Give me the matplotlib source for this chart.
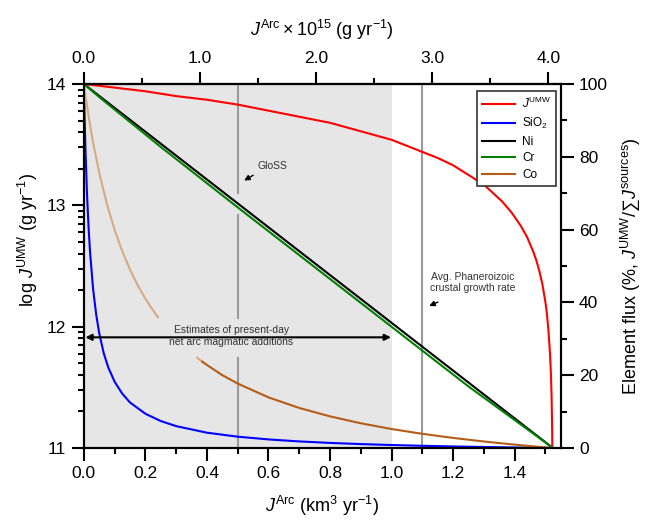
import numpy as np
import matplotlib
matplotlib.use("Agg")
import matplotlib.pyplot as plt
from matplotlib.ticker import FixedLocator, MultipleLocator, NullFormatter, FixedFormatter, LogLocator

plt.rcParams['font.family'] = ['Liberation Sans', 'DejaVu Sans']
plt.rcParams['mathtext.fontset'] = 'custom'
plt.rcParams['mathtext.rm'] = 'Liberation Sans'
plt.rcParams['mathtext.it'] = 'Liberation Sans:italic'
plt.rcParams['mathtext.bf'] = 'Liberation Sans:bold'

# J_arc (km3/yr) vs log J_UMW (g/yr)
red_x = [0, 0.1, 0.2, 0.3, 0.4, 0.5, 0.6, 0.7, 0.8, 0.9, 1.0, 1.05, 1.1, 1.15, 1.2, 1.25,
         1.3, 1.33, 1.36, 1.39, 1.42, 1.44, 1.46, 1.47, 1.48, 1.49, 1.50, 1.505, 1.51,
         1.515, 1.518, 1.52, 1.522, 1.5235]
red_log = [14.0, 13.97, 13.94, 13.90, 13.87, 13.83, 13.78, 13.73, 13.68, 13.61, 13.54,
           13.49, 13.44, 13.39, 13.33, 13.25, 13.17, 13.10, 13.03, 12.94, 12.83, 12.74,
           12.62, 12.55, 12.46, 12.35, 12.20, 12.10, 11.96, 11.77, 11.60, 11.42, 11.12,
           10.52]

# element flux (%), right axis
sio2_x = [0, 0.002, 0.005, 0.01, 0.015, 0.02, 0.03, 0.04, 0.05, 0.065, 0.08, 0.1, 0.125,
          0.15, 0.2, 0.25, 0.3, 0.4, 0.5, 0.6, 0.7, 0.8, 0.9, 1.0, 1.1, 1.2, 1.3, 1.4, 1.524]
sio2_pct = [100, 92.2, 82.6, 70.3, 61.1, 54.0, 43.7, 36.7, 31.5, 25.9, 22.0, 18.2, 14.9,
            12.5, 9.4, 7.4, 6.0, 4.2, 3.1, 2.35, 1.8, 1.39, 1.07, 0.81, 0.60, 0.42, 0.27,
            0.14, 0]

ni_x = [0, 1.524]
ni_pct = [100, 0]

cr_x = [0, 0.05, 0.25, 0.5, 0.75, 1.0, 1.25, 1.45, 1.524]
cr_pct = [100, 96.4, 82.7, 66.1, 49.7, 33.3, 16.9, 4.6, 0]

co_light_x = [0, 0.01, 0.02, 0.03, 0.05, 0.075, 0.1, 0.125, 0.15, 0.175, 0.2, 0.22, 0.241]
co_light_pct = [100, 94.1, 88.8, 83.9, 75.6, 67.0, 59.9, 54.0, 49.0, 44.7, 41.0, 38.4, 35.9]
co_fade_x = [0.368, 0.385]
co_fade_pct = [24.8, 23.7]
co_x = [0.385, 0.4, 0.45, 0.5, 0.6, 0.7, 0.8, 0.9, 1.0, 1.1, 1.2, 1.3, 1.4, 1.46, 1.524]
co_pct = [23.7, 22.8, 20.0, 17.7, 13.9, 11.0, 8.68, 6.79, 5.21, 3.89, 2.76, 1.78, 0.92,
          0.46, 0]

density = 2.65  # g/cm3, km3 -> 1e15 g
top_ticks = [0.0, 1.0, 2.0, 3.0, 4.0]
top_minor = [0.5, 1.5, 2.5, 3.5]
arc_range = (0.0, 1.0)
gloss_x = 0.5
gloss_gaps = [(0, 24.7), (35.7, 64.0), (70.0, 100)]
phan_x = 1.1

fig = plt.figure(figsize=(6.45, 5.2), dpi=100)
ax = fig.add_axes([0.130, 0.1385, 0.7395, 0.700])
ax2 = ax.twinx()

ax.axvspan(arc_range[0], arc_range[1], color='#e6e6e6', lw=0, zorder=0)
for lo, hi in gloss_gaps:
    ax.axvline(gloss_x, ymin=lo / 100, ymax=hi / 100, color='#9a9a9a', lw=1.5, zorder=1)
ax.axvline(phan_x, color='#9a9a9a', lw=1.5, zorder=1)

ax.plot(red_x, 10 ** np.array(red_log), color='red', lw=1.5, zorder=3)
ax.set_yscale('log')
ax.set_ylim(1e11, 1e14)
ax.set_xlim(0, 1.55)

ax2.plot(sio2_x, sio2_pct, color='#0000ff', lw=1.5)
ax2.plot(ni_x, ni_pct, color='black', lw=1.5)
ax2.plot(cr_x, cr_pct, color='#008000', lw=1.5)
ax2.plot(co_light_x, co_light_pct, color='#d7aa82', lw=1.5)
ax2.plot(co_fade_x, co_fade_pct, color='#d9a981', lw=1.5)
ax2.plot(co_x, co_pct, color='#b35d18', lw=1.5)
ax2.set_ylim(0, 100)

# legend
handles = [plt.Line2D([], [], color=c, lw=1.5) for c in ['red', '#0000ff', 'black', '#008000', '#b35d18']]
labels = [r'$J^{\rm UMW}$', r'SiO$_2$', 'Ni', 'Cr', 'Co']
leg = ax2.legend(handles, labels, loc='upper right', bbox_to_anchor=(0.99, 0.98),
                 fontsize=8.5, frameon=True, fancybox=False, framealpha=1,
                 edgecolor='#333333', handlelength=2.8, labelspacing=0.4,
                 borderpad=0.4, handletextpad=0.6, borderaxespad=0)
leg.get_frame().set_linewidth(1.2)

# annotations
ann_kw = dict(fontsize=7.5, color='#333333', ha='center', va='center')
ax2.text(0.614, 77.5, 'GloSS', **ann_kw)
ax2.annotate('', xy=(0.513, 73.1), xytext=(0.558, 75.3),
             arrowprops=dict(arrowstyle='-|>', color='black', lw=1, mutation_scale=8))
ax2.text(1.263, 45.5, 'Avg. Phaneroizoic\ncrustal growth rate', linespacing=1.1, **ann_kw)
ax2.annotate('', xy=(1.114, 38.7), xytext=(1.159, 40.4),
             arrowprops=dict(arrowstyle='-|>', color='black', lw=1, mutation_scale=8))
ax2.annotate('', xy=(arc_range[0] + 0.005, 30.4), xytext=(arc_range[1] - 0.002, 30.4),
             arrowprops=dict(arrowstyle='<|-|>', color='black', lw=1.5, mutation_scale=9,
                             shrinkA=0, shrinkB=0))
ax2.text(0.48, 30.8, 'Estimates of present-day\nnet arc magmatic additions',
         linespacing=1.25, **ann_kw)

# ticks
ax.xaxis.set_major_locator(MultipleLocator(0.2))
ax.xaxis.set_minor_locator(MultipleLocator(0.1))
ax.xaxis.set_major_formatter(plt.FuncFormatter(lambda v, p: f'{v:.1f}'))
ax.yaxis.set_major_locator(FixedLocator([1e11, 1e12, 1e13, 1e14]))
ax.yaxis.set_major_formatter(FixedFormatter(['11', '12', '13', '14']))
ax.yaxis.set_minor_locator(LogLocator(base=10, subs=np.arange(2, 10)))
ax.yaxis.set_minor_formatter(NullFormatter())
ax2.yaxis.set_major_locator(MultipleLocator(20))
ax2.yaxis.set_minor_locator(MultipleLocator(10))

top = ax.secondary_xaxis('top', functions=(lambda x: x * density, lambda g: g / density))
top.xaxis.set_major_locator(FixedLocator(top_ticks))
top.xaxis.set_minor_locator(FixedLocator(top_minor))
top.xaxis.set_major_formatter(FixedFormatter([f'{v:.1f}' for v in top_ticks]))

for a in [ax, ax2, top]:
    a.tick_params(which='major', direction='out', length=9, width=1.5, labelsize=12.5, pad=4)
    a.tick_params(which='minor', direction='out', length=4.5, width=1.5)
for a in [ax, ax2]:
    for s in a.spines.values():
        s.set_linewidth(1.5)
top.spines['top'].set_linewidth(1.5)

ax.set_xlabel(r'$J^{\rm Arc}$ (km$^3$ yr$^{-1}$)', fontsize=13, labelpad=9)
ax.set_ylabel(r'log $J^{\rm UMW}$ (g yr$^{-1}$)', fontsize=13)
ax.yaxis.set_label_coords(-0.092, 0.571)
ax2.set_ylabel(r'Element flux (%, $J^{\rm UMW}$/∑$J^{\rm sources}$)', fontsize=13, labelpad=8)
top.set_xlabel(r'$J^{\rm Arc}\times10^{15}$ (g yr$^{-1}$)', fontsize=13, labelpad=11)

fig.savefig('out.png', dpi=100)
